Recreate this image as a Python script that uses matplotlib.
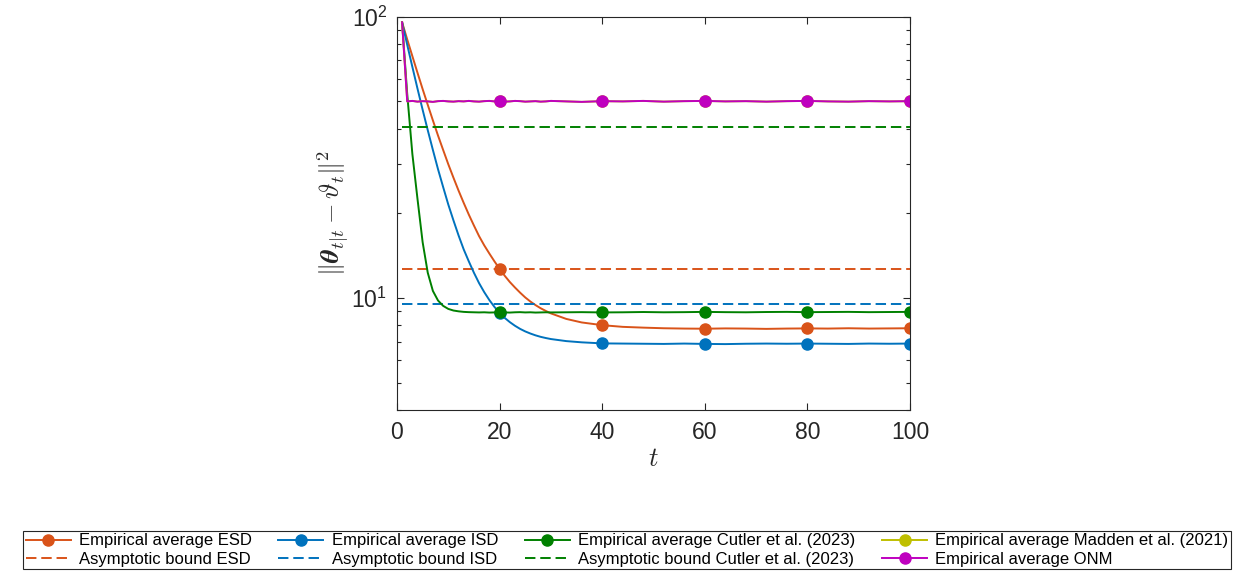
import matplotlib
matplotlib.use("Agg")
import matplotlib.pyplot as plt
from matplotlib.ticker import LogLocator, NullFormatter

# time steps (dense early, sparser once the curves settle)
T = list(range(1, 31)) + [33, 36, 40, 44, 48, 52, 56, 60, 64, 68, 72, 76, 80, 84, 88, 92, 96, 100]
MARK_T = [20, 40, 60, 80, 100]

esd = [95.5, 83.0, 72.4, 63.2, 55.3, 48.6, 42.8, 37.8, 33.6, 29.9,
       26.8, 24.1, 21.8, 19.8, 18.1, 16.6, 15.4, 14.4, 13.5, 12.7,
       12.0, 11.4, 10.9, 10.45, 10.05, 9.72, 9.44, 9.20, 9.00, 8.82,
       8.43, 8.19, 8.01, 7.90, 7.85, 7.81, 7.79, 7.78, 7.80, 7.79,
       7.77, 7.79, 7.80, 7.79, 7.81, 7.79, 7.80, 7.81]
isd = [95.5, 79.4, 66.3, 55.5, 46.7, 39.5, 33.6, 28.7, 24.8, 21.5,
       18.9, 16.7, 14.9, 13.5, 12.3, 11.3, 10.5, 9.84, 9.30, 8.86,
       8.50, 8.21, 7.97, 7.77, 7.61, 7.48, 7.37, 7.28, 7.21, 7.15,
       7.03, 6.96, 6.90, 6.89, 6.88, 6.87, 6.89, 6.87, 6.86, 6.88,
       6.89, 6.88, 6.89, 6.88, 6.87, 6.89, 6.88, 6.89]
cutler = [95.5, 53.0, 32.5, 22.5, 15.8, 12.3, 10.6, 9.80, 9.38, 9.15,
          9.03, 8.97, 8.93, 8.91, 8.90, 8.89, 8.90, 8.88, 8.89, 8.90,
          8.89, 8.88, 8.90, 8.91, 8.89, 8.90, 8.88, 8.89, 8.90, 8.89,
          8.90, 8.91, 8.89, 8.90, 8.92, 8.90, 8.91, 8.93, 8.91, 8.90,
          8.92, 8.93, 8.91, 8.92, 8.93, 8.91, 8.92, 8.93]
# Madden et al. sits exactly under the ONM curve in the figure
madden = [95.5, 50.0, 50.2, 49.9, 50.1, 50.0, 49.8, 50.1, 50.2, 50.0,
          49.9, 50.1, 50.0, 50.2, 50.0, 49.9, 50.1, 50.2, 50.0, 50.1,
          49.9, 50.0, 50.2, 50.1, 49.9, 50.0, 50.1, 49.9, 50.0, 50.2,
          50.0, 49.8, 50.1, 50.0, 50.2, 49.9, 50.1, 50.2, 50.0, 50.1,
          49.9, 50.1, 50.2, 50.0, 49.9, 50.1, 50.0, 50.1]
onm = [95.5, 50.0, 50.2, 49.9, 50.1, 50.0, 49.8, 50.1, 50.2, 50.0,
       49.9, 50.1, 50.0, 50.2, 50.0, 49.9, 50.1, 50.2, 50.0, 50.1,
       49.9, 50.0, 50.2, 50.1, 49.9, 50.0, 50.1, 49.9, 50.0, 50.2,
       50.0, 49.8, 50.1, 50.0, 50.2, 49.9, 50.1, 50.2, 50.0, 50.1,
       49.9, 50.1, 50.2, 50.0, 49.9, 50.1, 50.0, 50.1]

esd_bound = 12.7
isd_bound = 9.52
cutler_bound = 40.6

C_ESD = "#D95319"
C_ISD = "#0072BD"
C_CUT = "#008000"
C_MAD = "#BFBF00"
C_ONM = "#BF00BF"
AX_COL = "#262626"

plt.rcParams["font.family"] = ["Liberation Sans", "DejaVu Sans"]
plt.rcParams["mathtext.fontset"] = "cm"
plt.rcParams["lines.scale_dashes"] = False

fig = plt.figure(figsize=(12.39, 5.72), dpi=100)
ax = fig.add_axes([0.3204, 0.2832, 0.4141, 0.6876])

marks = [T.index(m) for m in MARK_T]
lw = 1.4
ms = 8
dash = (0, (7.5, 3.5))

h_esd, = ax.plot(T, esd, color=C_ESD, lw=lw, marker="o", ms=ms, markevery=marks,
                 label="Empirical average ESD")
h_esdb = ax.hlines(esd_bound, T[0], T[-1], colors=C_ESD, lw=lw, linestyles=dash,
                   label="Asymptotic bound ESD")
h_isd, = ax.plot(T, isd, color=C_ISD, lw=lw, marker="o", ms=ms, markevery=marks,
                 label="Empirical average ISD")
h_isdb = ax.hlines(isd_bound, T[0], T[-1], colors=C_ISD, lw=lw, linestyles=dash,
                   label="Asymptotic bound ISD")
h_cut, = ax.plot(T, cutler, color=C_CUT, lw=lw, marker="o", ms=ms, markevery=marks,
                 label="Empirical average Cutler et al. (2023)")
h_cutb = ax.hlines(cutler_bound, T[0], T[-1], colors=C_CUT, lw=lw, linestyles=dash,
                   label="Asymptotic bound Cutler et al. (2023)")
h_mad, = ax.plot(T, madden, color=C_MAD, lw=lw, marker="o", ms=ms, markevery=marks,
                 label="Empirical average Madden et al. (2021)")
h_onm, = ax.plot(T, onm, color=C_ONM, lw=lw, marker="o", ms=ms, markevery=marks,
                 label="Empirical average ONM")

ax.set_yscale("log")
ax.set_xlim(0, 100)
ax.set_ylim(4, 100)
ax.set_xticks([0, 20, 40, 60, 80, 100])
ax.yaxis.set_minor_locator(LogLocator(base=10, subs=range(2, 10)))
ax.yaxis.set_minor_formatter(NullFormatter())

for s in ax.spines.values():
    s.set_color(AX_COL)
    s.set_linewidth(0.8)
ax.tick_params(which="both", direction="in", top=True, right=True,
               color=AX_COL, labelcolor=AX_COL, labelsize=16.5, width=0.8)
ax.tick_params(which="major", length=5)
ax.tick_params(which="minor", length=3)
ax.tick_params(axis="x", which="major", pad=8)
ax.tick_params(axis="y", which="major", pad=7)

ax.set_xlabel(r"$t$", fontsize=19, color=AX_COL, labelpad=2)
ax.set_ylabel(r"$\|\boldsymbol{\theta}_{t|t}-\boldsymbol{\vartheta}_t\|^2$",
              fontsize=19, color=AX_COL, labelpad=1)

handles = [h_esd, h_esdb, h_isd, h_isdb, h_cut, h_cutb, h_mad, h_onm]
leg = fig.legend(handles=handles, loc="upper left", ncol=4,
                 bbox_to_anchor=(23 / 1239, 1 - 531 / 572), borderaxespad=0,
                 fontsize=12, frameon=True, fancybox=False, framealpha=1,
                 edgecolor=AX_COL, handlelength=2.7, handletextpad=0.5,
                 columnspacing=1.6, labelspacing=0.2, borderpad=0.15)
leg.get_frame().set_linewidth(0.8)

fig.savefig("out.png", dpi=100)
